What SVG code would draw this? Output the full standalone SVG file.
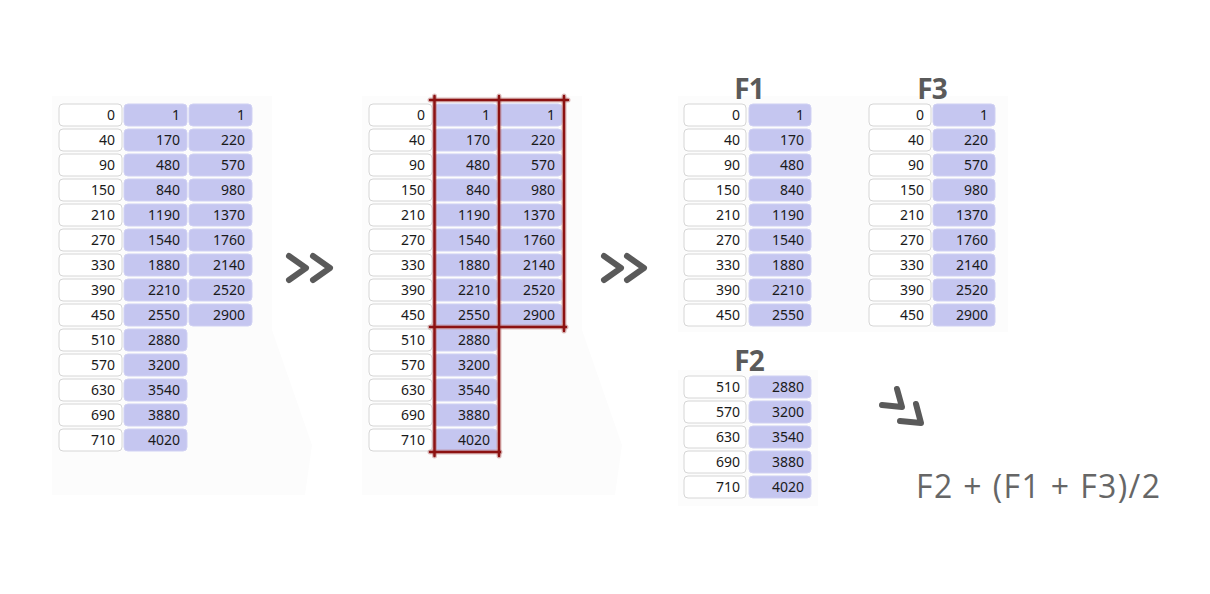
<svg xmlns="http://www.w3.org/2000/svg" xmlns:xlink="http://www.w3.org/1999/xlink" width="1210" height="594" viewBox="0 0 1210 594">
<style>
.w{fill:#ffffff;stroke:#d6d6d6;stroke-width:1}
.b{fill:#c5c6f0;stroke:#d0d1f3;stroke-width:1}
.n{font-family:"Noto Sans","Open Sans",sans-serif;font-size:14px;fill:#1a1a1a;text-anchor:end}
.lab{font-family:"Open Sans","Noto Sans",sans-serif;font-weight:bold;font-size:28px;fill:#5a5a5a;text-anchor:middle;letter-spacing:-1px}
.chev{fill:none;stroke:#5a5a5a;stroke-width:6;stroke-linecap:round;stroke-linejoin:round}
.halo{stroke:#b56a6a;stroke-width:5;stroke-opacity:0.45;stroke-linecap:round}
.red{stroke:#8c1212;stroke-width:2.5;stroke-linecap:round}
.bg{fill:#fcfcfc}
</style>
<defs>
<rect id="w63" class="w" width="63" height="22" rx="4"/>
<rect id="b63" class="b" width="63" height="22" rx="4"/>
<rect id="w62" class="w" width="62" height="22" rx="4"/>
<rect id="b62" class="b" width="62" height="22" rx="4"/>
</defs>
<rect width="1210" height="594" fill="#ffffff"/>
<g id="backgrounds">
<polygon class="bg" points="52,96 272,96 272,330 312,445 305,495 52,495"/>
<polygon class="bg" points="362,96 582,96 582,330 622,445 615,495 362,495"/>
<rect class="bg" x="678" y="96" width="330" height="236"/>
<rect class="bg" x="678" y="370" width="140" height="136"/>
</g>
<g id="table1" transform="translate(59,104)">
<use href="#w63" y="0"/><use href="#b63" x="65" y="0"/><use href="#b63" x="130" y="0"/>
<use href="#w63" y="25"/><use href="#b63" x="65" y="25"/><use href="#b63" x="130" y="25"/>
<use href="#w63" y="50"/><use href="#b63" x="65" y="50"/><use href="#b63" x="130" y="50"/>
<use href="#w63" y="75"/><use href="#b63" x="65" y="75"/><use href="#b63" x="130" y="75"/>
<use href="#w63" y="100"/><use href="#b63" x="65" y="100"/><use href="#b63" x="130" y="100"/>
<use href="#w63" y="125"/><use href="#b63" x="65" y="125"/><use href="#b63" x="130" y="125"/>
<use href="#w63" y="150"/><use href="#b63" x="65" y="150"/><use href="#b63" x="130" y="150"/>
<use href="#w63" y="175"/><use href="#b63" x="65" y="175"/><use href="#b63" x="130" y="175"/>
<use href="#w63" y="200"/><use href="#b63" x="65" y="200"/><use href="#b63" x="130" y="200"/>
<use href="#w63" y="225"/><use href="#b63" x="65" y="225"/>
<use href="#w63" y="250"/><use href="#b63" x="65" y="250"/>
<use href="#w63" y="275"/><use href="#b63" x="65" y="275"/>
<use href="#w63" y="300"/><use href="#b63" x="65" y="300"/>
<use href="#w63" y="325"/><use href="#b63" x="65" y="325"/>
<text class="n" x="56" y="16">0</text><text class="n" x="121" y="16">1</text><text class="n" x="186" y="16">1</text>
<text class="n" x="56" y="41">40</text><text class="n" x="121" y="41">170</text><text class="n" x="186" y="41">220</text>
<text class="n" x="56" y="66">90</text><text class="n" x="121" y="66">480</text><text class="n" x="186" y="66">570</text>
<text class="n" x="56" y="91">150</text><text class="n" x="121" y="91">840</text><text class="n" x="186" y="91">980</text>
<text class="n" x="56" y="116">210</text><text class="n" x="121" y="116">1190</text><text class="n" x="186" y="116">1370</text>
<text class="n" x="56" y="141">270</text><text class="n" x="121" y="141">1540</text><text class="n" x="186" y="141">1760</text>
<text class="n" x="56" y="166">330</text><text class="n" x="121" y="166">1880</text><text class="n" x="186" y="166">2140</text>
<text class="n" x="56" y="191">390</text><text class="n" x="121" y="191">2210</text><text class="n" x="186" y="191">2520</text>
<text class="n" x="56" y="216">450</text><text class="n" x="121" y="216">2550</text><text class="n" x="186" y="216">2900</text>
<text class="n" x="56" y="241">510</text><text class="n" x="121" y="241">2880</text>
<text class="n" x="56" y="266">570</text><text class="n" x="121" y="266">3200</text>
<text class="n" x="56" y="291">630</text><text class="n" x="121" y="291">3540</text>
<text class="n" x="56" y="316">690</text><text class="n" x="121" y="316">3880</text>
<text class="n" x="56" y="341">710</text><text class="n" x="121" y="341">4020</text>
</g>
<g id="table2" transform="translate(369,104)">
<use href="#w63" y="0"/><use href="#b63" x="65" y="0"/><use href="#b63" x="130" y="0"/>
<use href="#w63" y="25"/><use href="#b63" x="65" y="25"/><use href="#b63" x="130" y="25"/>
<use href="#w63" y="50"/><use href="#b63" x="65" y="50"/><use href="#b63" x="130" y="50"/>
<use href="#w63" y="75"/><use href="#b63" x="65" y="75"/><use href="#b63" x="130" y="75"/>
<use href="#w63" y="100"/><use href="#b63" x="65" y="100"/><use href="#b63" x="130" y="100"/>
<use href="#w63" y="125"/><use href="#b63" x="65" y="125"/><use href="#b63" x="130" y="125"/>
<use href="#w63" y="150"/><use href="#b63" x="65" y="150"/><use href="#b63" x="130" y="150"/>
<use href="#w63" y="175"/><use href="#b63" x="65" y="175"/><use href="#b63" x="130" y="175"/>
<use href="#w63" y="200"/><use href="#b63" x="65" y="200"/><use href="#b63" x="130" y="200"/>
<use href="#w63" y="225"/><use href="#b63" x="65" y="225"/>
<use href="#w63" y="250"/><use href="#b63" x="65" y="250"/>
<use href="#w63" y="275"/><use href="#b63" x="65" y="275"/>
<use href="#w63" y="300"/><use href="#b63" x="65" y="300"/>
<use href="#w63" y="325"/><use href="#b63" x="65" y="325"/>
<text class="n" x="56" y="16">0</text><text class="n" x="121" y="16">1</text><text class="n" x="186" y="16">1</text>
<text class="n" x="56" y="41">40</text><text class="n" x="121" y="41">170</text><text class="n" x="186" y="41">220</text>
<text class="n" x="56" y="66">90</text><text class="n" x="121" y="66">480</text><text class="n" x="186" y="66">570</text>
<text class="n" x="56" y="91">150</text><text class="n" x="121" y="91">840</text><text class="n" x="186" y="91">980</text>
<text class="n" x="56" y="116">210</text><text class="n" x="121" y="116">1190</text><text class="n" x="186" y="116">1370</text>
<text class="n" x="56" y="141">270</text><text class="n" x="121" y="141">1540</text><text class="n" x="186" y="141">1760</text>
<text class="n" x="56" y="166">330</text><text class="n" x="121" y="166">1880</text><text class="n" x="186" y="166">2140</text>
<text class="n" x="56" y="191">390</text><text class="n" x="121" y="191">2210</text><text class="n" x="186" y="191">2520</text>
<text class="n" x="56" y="216">450</text><text class="n" x="121" y="216">2550</text><text class="n" x="186" y="216">2900</text>
<text class="n" x="56" y="241">510</text><text class="n" x="121" y="241">2880</text>
<text class="n" x="56" y="266">570</text><text class="n" x="121" y="266">3200</text>
<text class="n" x="56" y="291">630</text><text class="n" x="121" y="291">3540</text>
<text class="n" x="56" y="316">690</text><text class="n" x="121" y="316">3880</text>
<text class="n" x="56" y="341">710</text><text class="n" x="121" y="341">4020</text>
</g>
<g id="split-lines">
<g class="halo">
<line x1="430" y1="100" x2="568" y2="100"/>
<line x1="430" y1="327" x2="566" y2="327"/>
<line x1="430" y1="452" x2="500" y2="452"/>
<line x1="434.5" y1="96" x2="434.5" y2="456"/>
<line x1="499" y1="96" x2="499" y2="456"/>
<line x1="564" y1="96" x2="564" y2="331"/>
</g>
<g class="red">
<line x1="430" y1="100" x2="568" y2="100"/>
<line x1="430" y1="327" x2="566" y2="327"/>
<line x1="430" y1="452" x2="500" y2="452"/>
<line x1="434.5" y1="96" x2="434.5" y2="456"/>
<line x1="499" y1="96" x2="499" y2="456"/>
<line x1="564" y1="96" x2="564" y2="331"/>
</g>
</g>
<g id="F1">
<text class="lab" x="749" y="99">F1</text>
<g transform="translate(684,104)">
<use href="#w62" y="0"/><use href="#b62" x="65" y="0"/>
<use href="#w62" y="25"/><use href="#b62" x="65" y="25"/>
<use href="#w62" y="50"/><use href="#b62" x="65" y="50"/>
<use href="#w62" y="75"/><use href="#b62" x="65" y="75"/>
<use href="#w62" y="100"/><use href="#b62" x="65" y="100"/>
<use href="#w62" y="125"/><use href="#b62" x="65" y="125"/>
<use href="#w62" y="150"/><use href="#b62" x="65" y="150"/>
<use href="#w62" y="175"/><use href="#b62" x="65" y="175"/>
<use href="#w62" y="200"/><use href="#b62" x="65" y="200"/>
<text class="n" x="56" y="16">0</text><text class="n" x="120" y="16">1</text>
<text class="n" x="56" y="41">40</text><text class="n" x="120" y="41">170</text>
<text class="n" x="56" y="66">90</text><text class="n" x="120" y="66">480</text>
<text class="n" x="56" y="91">150</text><text class="n" x="120" y="91">840</text>
<text class="n" x="56" y="116">210</text><text class="n" x="120" y="116">1190</text>
<text class="n" x="56" y="141">270</text><text class="n" x="120" y="141">1540</text>
<text class="n" x="56" y="166">330</text><text class="n" x="120" y="166">1880</text>
<text class="n" x="56" y="191">390</text><text class="n" x="120" y="191">2210</text>
<text class="n" x="56" y="216">450</text><text class="n" x="120" y="216">2550</text>
</g>
</g>
<g id="F3">
<text class="lab" x="932" y="99">F3</text>
<g transform="translate(869,104)">
<use href="#w62" y="0"/><use href="#b62" x="64" y="0"/>
<use href="#w62" y="25"/><use href="#b62" x="64" y="25"/>
<use href="#w62" y="50"/><use href="#b62" x="64" y="50"/>
<use href="#w62" y="75"/><use href="#b62" x="64" y="75"/>
<use href="#w62" y="100"/><use href="#b62" x="64" y="100"/>
<use href="#w62" y="125"/><use href="#b62" x="64" y="125"/>
<use href="#w62" y="150"/><use href="#b62" x="64" y="150"/>
<use href="#w62" y="175"/><use href="#b62" x="64" y="175"/>
<use href="#w62" y="200"/><use href="#b62" x="64" y="200"/>
<text class="n" x="55" y="16">0</text><text class="n" x="119" y="16">1</text>
<text class="n" x="55" y="41">40</text><text class="n" x="119" y="41">220</text>
<text class="n" x="55" y="66">90</text><text class="n" x="119" y="66">570</text>
<text class="n" x="55" y="91">150</text><text class="n" x="119" y="91">980</text>
<text class="n" x="55" y="116">210</text><text class="n" x="119" y="116">1370</text>
<text class="n" x="55" y="141">270</text><text class="n" x="119" y="141">1760</text>
<text class="n" x="55" y="166">330</text><text class="n" x="119" y="166">2140</text>
<text class="n" x="55" y="191">390</text><text class="n" x="119" y="191">2520</text>
<text class="n" x="55" y="216">450</text><text class="n" x="119" y="216">2900</text>
</g>
</g>
<g id="F2">
<text class="lab" x="749" y="371">F2</text>
<g transform="translate(684,376)">
<use href="#w62" y="0"/><use href="#b62" x="65" y="0"/>
<use href="#w62" y="25"/><use href="#b62" x="65" y="25"/>
<use href="#w62" y="50"/><use href="#b62" x="65" y="50"/>
<use href="#w62" y="75"/><use href="#b62" x="65" y="75"/>
<use href="#w62" y="100"/><use href="#b62" x="65" y="100"/>
<text class="n" x="56" y="16">510</text><text class="n" x="120" y="16">2880</text>
<text class="n" x="56" y="41">570</text><text class="n" x="120" y="41">3200</text>
<text class="n" x="56" y="66">630</text><text class="n" x="120" y="66">3540</text>
<text class="n" x="56" y="91">690</text><text class="n" x="120" y="91">3880</text>
<text class="n" x="56" y="116">710</text><text class="n" x="120" y="116">4020</text>
</g>
</g>
<g id="connectors">
<polyline class="chev" points="289,256 306,268 289,280"/>
<polyline class="chev" points="313,256 330,268 313,280"/>
<polyline class="chev" points="604,256 621,268 604,280"/>
<polyline class="chev" points="627,256 644,268 627,280"/>
<polyline class="chev" points="882,405 902,407 897,389"/>
<polyline class="chev" points="900,421 921,423 916,404"/>
</g>
<g id="formula">
<text x="916" y="498" font-family="Open Sans, Noto Sans, sans-serif" font-size="32" fill="#666666" textLength="244" lengthAdjust="spacing">F2 + (F1 + F3)/2</text>
</g>
</svg>
